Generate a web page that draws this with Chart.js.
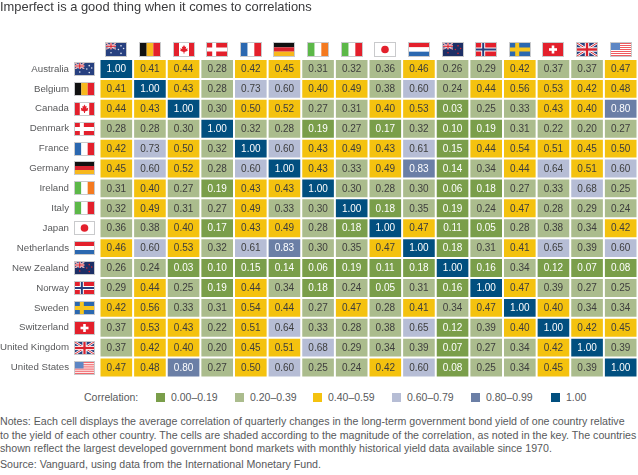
<!DOCTYPE html>
<html>
<head>
<meta charset="utf-8">
<script src="https://cdn.jsdelivr.net/npm/chart.js@4/dist/chart.umd.min.js"></script>
<style>
  html, body { margin: 0; padding: 0; background: #fff; overflow: hidden; }
  body { width: 638px; height: 475px; position: relative; font-family: "Liberation Sans", Arial, sans-serif; color: #58595b; }
  #wrap { position: absolute; left: 0; top: 0; width: 638px; height: 385px; }
  #key { position: absolute; left: 84px; top: 390px; height: 14px; font-size: 10.5px; line-height: 14px; }
  #key span { position: absolute; top: 0; white-space: nowrap; }
  #key i { position: absolute; top: 2.5px; width: 9px; height: 9px; }
  #notes { position: absolute; left: 0; top: 415px; width: 640px; font-size: 10.65px; line-height: 13.6px; white-space: nowrap; }
  #notes p { margin: 0 0 2.5px 0; }
</style>
</head>
<body>
<div id="wrap"><canvas id="heat" width="638" height="385"></canvas></div>
<div id="key"></div>
<div id="notes">
  <p>Notes: Each cell displays the average correlation of quarterly changes in the long-term government bond yield of one country relative<br>to the yield of each other country. The cells are shaded according to the magnitude of the correlation, as noted in the key. The countries<br>shown reflect the largest developed government bond markets with monthly historical yield data available since 1970.</p>
  <p>Source: Vanguard, using data from the International Monetary Fund.</p>
</div>
<script>
const countries = ["Australia", "Belgium", "Canada", "Denmark", "France", "Germany", "Ireland", "Italy", "Japan", "Netherlands", "New Zealand", "Norway", "Sweden", "Switzerland", "United Kingdom", "United States"];
const flagCodes = ["AU", "BE", "CA", "DK", "FR", "DE", "IE", "IT", "JP", "NL", "NZ", "NO", "SE", "CH", "GB", "US"];

const australia   = [1.00, 0.41, 0.44, 0.28, 0.42, 0.45, 0.31, 0.32, 0.36, 0.46, 0.26, 0.29, 0.42, 0.37, 0.37, 0.47];
const belgium     = [0.41, 1.00, 0.43, 0.28, 0.73, 0.60, 0.40, 0.49, 0.38, 0.60, 0.24, 0.44, 0.56, 0.53, 0.42, 0.48];
const canada      = [0.44, 0.43, 1.00, 0.30, 0.50, 0.52, 0.27, 0.31, 0.40, 0.53, 0.03, 0.25, 0.33, 0.43, 0.40, 0.80];
const denmark     = [0.28, 0.28, 0.30, 1.00, 0.32, 0.28, 0.19, 0.27, 0.17, 0.32, 0.10, 0.19, 0.31, 0.22, 0.20, 0.27];
const france      = [0.42, 0.73, 0.50, 0.32, 1.00, 0.60, 0.43, 0.49, 0.43, 0.61, 0.15, 0.44, 0.54, 0.51, 0.45, 0.50];
const germany     = [0.45, 0.60, 0.52, 0.28, 0.60, 1.00, 0.43, 0.33, 0.49, 0.83, 0.14, 0.34, 0.44, 0.64, 0.51, 0.60];
const ireland     = [0.31, 0.40, 0.27, 0.19, 0.43, 0.43, 1.00, 0.30, 0.28, 0.30, 0.06, 0.18, 0.27, 0.33, 0.68, 0.25];
const italy       = [0.32, 0.49, 0.31, 0.27, 0.49, 0.33, 0.30, 1.00, 0.18, 0.35, 0.19, 0.24, 0.47, 0.28, 0.29, 0.24];
const japan       = [0.36, 0.38, 0.40, 0.17, 0.43, 0.49, 0.28, 0.18, 1.00, 0.47, 0.11, 0.05, 0.28, 0.38, 0.34, 0.42];
const netherlands = [0.46, 0.60, 0.53, 0.32, 0.61, 0.83, 0.30, 0.35, 0.47, 1.00, 0.18, 0.31, 0.41, 0.65, 0.39, 0.60];
const newZealand  = [0.26, 0.24, 0.03, 0.10, 0.15, 0.14, 0.06, 0.19, 0.11, 0.18, 1.00, 0.16, 0.34, 0.12, 0.07, 0.08];
const norway      = [0.29, 0.44, 0.25, 0.19, 0.44, 0.34, 0.18, 0.24, 0.05, 0.31, 0.16, 1.00, 0.47, 0.39, 0.27, 0.25];
const sweden      = [0.42, 0.56, 0.33, 0.31, 0.54, 0.44, 0.27, 0.47, 0.28, 0.41, 0.34, 0.47, 1.00, 0.40, 0.34, 0.34];
const switzerland = [0.37, 0.53, 0.43, 0.22, 0.51, 0.64, 0.33, 0.28, 0.38, 0.65, 0.12, 0.39, 0.40, 1.00, 0.42, 0.45];
const unitedKingdom = [0.37, 0.42, 0.40, 0.20, 0.45, 0.51, 0.68, 0.29, 0.34, 0.39, 0.07, 0.27, 0.34, 0.42, 1.00, 0.39];
const unitedStates  = [0.47, 0.48, 0.80, 0.27, 0.50, 0.60, 0.25, 0.24, 0.42, 0.60, 0.08, 0.25, 0.34, 0.45, 0.39, 1.00];

const correlations = [australia, belgium, canada, denmark, france, germany, ireland, italy, japan, netherlands, newZealand, norway, sweden, switzerland, unitedKingdom, unitedStates];

const bandLabels = ["0.00–0.19", "0.20–0.39", "0.40–0.59", "0.60–0.79", "0.80–0.99", "1.00"];
const bandFloors = [0, 0.2, 0.4, 0.6, 0.8, 1];
const bandColors = ["#7a9e4a", "#abbc8d", "#f4c20f", "#b6bdd5", "#6b7fa6", "#014f7f"];
const bandText   = ["#ffffff", "#3d3d3d", "#3d3d3d", "#3d3d3d", "#ffffff", "#ffffff"];

function bandOf(v) {
  let b = 0;
  bandFloors.forEach((f, i) => { if (v >= f) b = i; });
  return b;
}

// ---------- key under the chart ----------
const key = document.getElementById("key");
const keyStart = [72, 151, 229, 308, 387, 467];
key.innerHTML = '<span style="left:0">Correlation:</span>' + bandLabels.map((t, i) =>
  `<i style="left:${keyStart[i]}px;background:${bandColors[i]}"></i><span style="left:${keyStart[i] + 15}px">${t}</span>`).join("");

// ---------- flags, small canvas drawings ----------
function rect(c, col, x, y, w, h) { c.fillStyle = col; c.fillRect(x, y, w, h); }

function vStripes(c, cols, x, y, w, h) { cols.forEach((col, i) => rect(c, col, x + w * i / 3, y, w / 3, h)); }
function hStripes(c, cols, x, y, w, h) { cols.forEach((col, i) => rect(c, col, x, y + h * i / 3, w, h / 3)); }

function scandi(c, bg, outer, inner, x, y, w, h) {
  rect(c, bg, x, y, w, h);
  const cx = x + w * 0.36, cy = y + h / 2;
  rect(c, outer, cx - 2, y, 4, h);
  rect(c, outer, x, cy - 2, w, 4);
  if (inner) {
    rect(c, inner, cx - 1, y, 2, h);
    rect(c, inner, x, cy - 1, w, 2);
  }
}

function unionJack(c, x, y, w, h) {
  c.save();
  c.beginPath(); c.rect(x, y, w, h); c.clip();
  rect(c, "#27407f", x, y, w, h);
  const k = w / 20;
  const diag = (col, lw) => {
    c.strokeStyle = col; c.lineWidth = lw;
    c.beginPath();
    c.moveTo(x, y); c.lineTo(x + w, y + h);
    c.moveTo(x + w, y); c.lineTo(x, y + h);
    c.stroke();
  };
  diag("#ffffff", 2.6 * k);
  diag("#d8232f", 1 * k);
  rect(c, "#ffffff", x + w / 2 - 2.2 * k, y, 4.4 * k, h);
  rect(c, "#ffffff", x, y + h / 2 - 2.2 * k, w, 4.4 * k);
  rect(c, "#d8232f", x + w / 2 - 1.2 * k, y, 2.4 * k, h);
  rect(c, "#d8232f", x, y + h / 2 - 1.2 * k, w, 2.4 * k);
  c.restore();
}

function dots(c, col, pts, r) {
  c.fillStyle = col;
  pts.forEach(p => { c.beginPath(); c.arc(p[0], p[1], r, 0, Math.PI * 2); c.fill(); });
}

function drawFlag(c, code, x, y, w, h) {
  const RED = "#e3202c", BLUE = "#2b68b0", GREEN = "#5cb848";
  if (code === "AU" || code === "NZ") {
    rect(c, code === "AU" ? "#27407f" : "#1d2f66", x, y, w, h);
    unionJack(c, x, y, w * 0.5, h * 0.5);
    const col = code === "AU" ? "#dfe4f2" : "#d8232f";
    dots(c, col, [[x + w * 0.75, y + h * 0.22], [x + w * 0.88, y + h * 0.42], [x + w * 0.62, y + h * 0.5], [x + w * 0.75, y + h * 0.8], [x + w * 0.25, y + h * 0.75]], 0.8);
  } else if (code === "BE") vStripes(c, ["#111111", "#f7b81d", RED], x, y, w, h);
  else if (code === "CA") {
    rect(c, "#ffffff", x, y, w, h);
    rect(c, RED, x, y, w * 0.25, h);
    rect(c, RED, x + w * 0.75, y, w * 0.25, h);
    const cx = x + w / 2, cy = y + h / 2;
    c.fillStyle = RED;
    c.beginPath();
    [[0, -4.6], [1.1, -2.6], [2.2, -3.1], [1.7, -0.4], [3.8, -1.2], [3.2, 0.4], [3.9, 1.2], [0.5, 2.6], [0.5, 4], [-0.5, 4], [-0.5, 2.6], [-3.9, 1.2], [-3.2, 0.4], [-3.8, -1.2], [-1.7, -0.4], [-2.2, -3.1], [-1.1, -2.6]]
      .forEach((p, i) => i ? c.lineTo(cx + p[0], cy + p[1]) : c.moveTo(cx + p[0], cy + p[1]));
    c.closePath(); c.fill();
  } else if (code === "DK") scandi(c, RED, "#ffffff", null, x, y, w, h);
  else if (code === "FR") vStripes(c, [BLUE, "#ffffff", RED], x, y, w, h);
  else if (code === "DE") hStripes(c, ["#111111", "#d8232f", "#f7b81d"], x, y, w, h);
  else if (code === "IE") vStripes(c, [GREEN, "#ffffff", "#f47a20"], x, y, w, h);
  else if (code === "IT") vStripes(c, [GREEN, "#ffffff", RED], x, y, w, h);
  else if (code === "JP") {
    rect(c, "#ffffff", x, y, w, h);
    dots(c, RED, [[x + w / 2, y + h / 2]], 3.8);
  } else if (code === "NL") hStripes(c, [RED, "#ffffff", BLUE], x, y, w, h);
  else if (code === "NO") scandi(c, RED, "#ffffff", "#27407f", x, y, w, h);
  else if (code === "SE") scandi(c, "#2b68b0", "#f7c51d", null, x, y, w, h);
  else if (code === "CH") {
    rect(c, RED, x, y, w, h);
    rect(c, "#ffffff", x + w / 2 - 1.3, y + h / 2 - 4, 2.6, 8);
    rect(c, "#ffffff", x + w / 2 - 4, y + h / 2 - 1.3, 8, 2.6);
  } else if (code === "GB") unionJack(c, x, y, w, h);
  else if (code === "US") {
    rect(c, "#ffffff", x, y, w, h);
    for (let i = 0; i < 7; i++) rect(c, "#ef5a5f", x, y + i * h * 2 / 13, w, h / 13);
    rect(c, "#5d86c4", x, y, w * 0.45, h * 7 / 13);
  }
  c.strokeStyle = "#c9cacc";
  c.lineWidth = 1;
  c.strokeRect(x - 0.5, y - 0.5, w + 1, h + 1);
}

// ---------- plugins: values in the cells, flags on the axes ----------
const cellValues = {
  id: "cellValues",
  afterDatasetsDraw(chart) {
    const c = chart.ctx;
    c.save();
    c.font = '10px "Liberation Sans", Arial, sans-serif';
    c.textAlign = "center";
    c.textBaseline = "middle";
    chart.data.datasets.forEach((ds, r) => {
      chart.getDatasetMeta(r).data.forEach((bar, k) => {
        const v = correlations[r][k];
        const mid = bar.getCenterPoint();
        c.fillStyle = bandText[bandOf(v)];
        c.fillText(v.toFixed(2), mid.x, mid.y + 0.5);
      });
    });
    c.restore();
  }
};

const axisFlags = {
  id: "axisFlags",
  afterDraw(chart) {
    const c = chart.ctx, xs = chart.scales.x, ys = chart.scales.y;
    flagCodes.forEach((code, i) => {
      drawFlag(c, code, Math.round(xs.getPixelForValue(countries[i]) - 10), 43, 20, 13);
      drawFlag(c, code, 75, Math.round(ys.getPixelForValue(i + 0.5) - 6), 19, 12);
    });
  }
};

// ---------- heat map as floating bars ----------
new Chart(document.getElementById("heat"), {
  type: "bar",
  data: {
    labels: countries,
    datasets: correlations.map((row, r) => ({
      label: countries[r],
      data: row.map(() => [r, r + 1]),
      backgroundColor: row.map(v => bandColors[bandOf(v)]),
      borderColor: "#ffffff",
      borderWidth: 1,
      borderSkipped: false,
      inflateAmount: 0,
      grouped: false,
      categoryPercentage: 1,
      barPercentage: 1
    }))
  },
  options: {
    responsive: false,
    animation: false,
    events: [],
    layout: { padding: { top: 0, right: 0.5, bottom: 7.5, left: 0 } },
    plugins: {
      legend: { display: false },
      tooltip: { enabled: false },
      title: {
        display: true,
        text: "Imperfect is a good thing when it comes to correlations",
        align: "start",
        color: "#3a3a3c",
        font: { family: '"Liberation Sans", Arial, sans-serif', size: 12.9, weight: "normal", lineHeight: 1 },
        padding: { top: 1.5, bottom: 44.6 }
      }
    },
    scales: {
      x: {
        type: "category",
        display: false,
        offset: true
      },
      y: {
        type: "linear",
        reverse: true,
        min: 0,
        max: 16,
        grid: { display: false, drawTicks: false },
        border: { display: false },
        afterBuildTicks(axis) { axis.ticks = countries.map((_, i) => ({ value: i + 0.5 })); },
        afterFit(axis) {
          axis.width = 99.5;
          axis.paddingTop = 0;
          axis.paddingBottom = 0;
        },
        ticks: {
          autoSkip: false,
          padding: 30.5,
          color: "#58595b",
          font: { family: '"Liberation Sans", Arial, sans-serif', size: 9.7 },
          callback: v => countries[Math.floor(v)]
        }
      }
    }
  },
  plugins: [cellValues, axisFlags]
});
</script>
</body>
</html>
